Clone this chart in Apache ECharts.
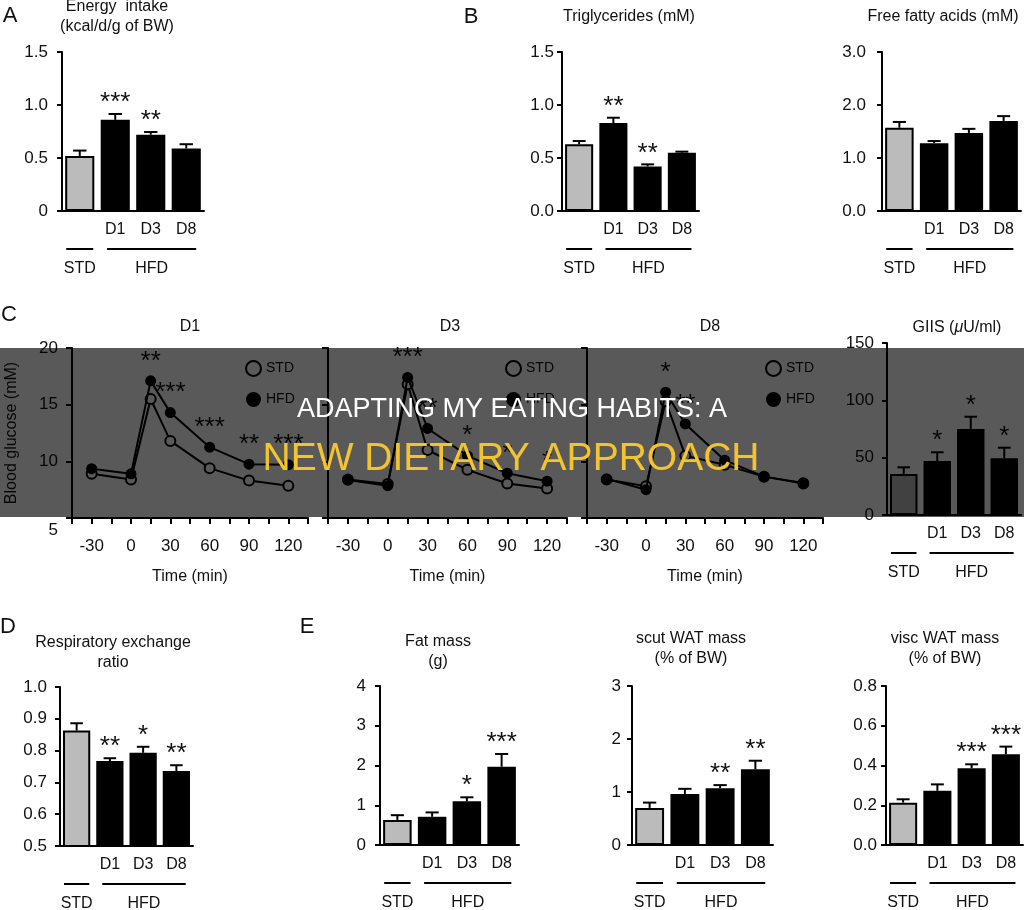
<!DOCTYPE html>
<html>
<head>
<meta charset="utf-8">
<title>HFD metabolic panels</title>
<script src="https://cdn.jsdelivr.net/npm/echarts@6/dist/echarts.min.js"></script>
<style>
  html, body { margin: 0; padding: 0; background: #fff; }
  #main { width: 1024px; height: 910px; }
</style>
</head>
<body>
<div id="main"></div>
<script>
// ---- data ----
const barCats = ['', 'D1', 'D3', 'D8'];
const groupNames = ['STD', 'HFD'];

const energyMean = [0.52, 0.86, 0.72, 0.59];
const energyErr = [0.57, 0.915, 0.745, 0.63];
const energyStars = ['', '***', '**', ''];
const energyTicks = ['0', '0.5', '1.0', '1.5'];

const tgMean = [0.63, 0.83, 0.42, 0.55];
const tgErr = [0.66, 0.88, 0.44, 0.56];
const tgStars = ['', '**', '**', ''];
const tgTicks = ['0.0', '0.5', '1.0', '1.5'];

const ffaMean = [1.57, 1.28, 1.47, 1.70];
const ffaErr = [1.68, 1.32, 1.55, 1.79];
const ffaStars = ['', '', '', ''];
const ffaTicks = ['0.0', '1.0', '2.0', '3.0'];

const giisMean = [35.8, 47.1, 75, 49.4];
const giisErr = [41.6, 54.7, 85.7, 58.7];
const giisStars = ['', '*', '*', '*'];
const giisTicks = ['0', '50', '100', '150'];

const rerMean = [0.863, 0.767, 0.793, 0.736];
const rerErr = [0.886, 0.776, 0.812, 0.754];
const rerStars = ['', '**', '*', '**'];
const rerTicks = ['0.5', '0.6', '0.7', '0.8', '0.9', '1.0'];

const fatMean = [0.63, 0.71, 1.1, 1.97];
const fatErr = [0.75, 0.82, 1.2, 2.29];
const fatStars = ['', '', '*', '***'];
const fatTicks = ['0', '1', '2', '3', '4'];

const scutMean = [0.70, 0.96, 1.07, 1.43];
const scutErr = [0.80, 1.06, 1.13, 1.59];
const scutStars = ['', '', '**', '**'];
const scutTicks = ['0', '1', '2', '3'];

const viscMean = [0.213, 0.273, 0.386, 0.456];
const viscErr = [0.23, 0.305, 0.406, 0.495];
const viscStars = ['', '', '***', '***'];
const viscTicks = ['0.0', '0.2', '0.4', '0.6', '0.8'];

const times = [-30, 0, 15, 30, 60, 90, 120];
const timeTicks = [-30, 0, 30, 60, 90, 120];
const glucoseTicks = ['5', '10', '15', '20'];
const d1Std = [8.9, 8.4, 15.5, 11.8, 9.4, 8.3, 7.85];
const d1Hfd = [9.35, 8.9, 17.1, 14.3, 11.25, 9.75, 9.7];
const d1Stars = ['', '', '**', '***', '***', '**', '***'];
const d3Std = [8.4, 8.0, 16.8, 11.0, 9.25, 8.05, 7.6];
const d3Hfd = [8.35, 7.85, 17.4, 12.9, 10.5, 8.95, 8.25];
const d3Stars = ['', '', '***', '**', '*', '*', '*'];
const d8Std = [8.4, 7.8, 15.3, 10.5, 9.7, 8.65, 8.05];
const d8Hfd = [8.45, 7.5, 16.1, 13.3, 10.1, 8.65, 8.1];
const d8Stars = ['', '', '*', '**', '', '', ''];

// ---- look ----
const FONT = '"Liberation Sans", Arial, Helvetica, sans-serif';
const INK = '#111';
const STAR = 26;

const barPanels = [
  { mean: energyMean, err: energyErr, stars: energyStars, ticks: energyTicks, min: 0, max: 1.5, interval: 0.5,
    left: 62, top: 52, width: 142, height: 159, margin: 14,
    title: 'Energy  intake\n(kcal/d/g of BW)', tx: 117, ty: -3 },
  { mean: tgMean, err: tgErr, stars: tgStars, ticks: tgTicks, min: 0, max: 1.5, interval: 0.5,
    left: 562, top: 52, width: 137, height: 159, margin: 8,
    title: 'Triglycerides (mM)', tx: 629, ty: 7 },
  { mean: ffaMean, err: ffaErr, stars: ffaStars, ticks: ffaTicks, min: 0, max: 3, interval: 1,
    left: 882, top: 52, width: 139, height: 159, margin: 16,
    title: 'Free fatty acids (mM)', tx: 943, ty: 7 },
  { mean: giisMean, err: giisErr, stars: giisStars, ticks: giisTicks, min: 0, max: 150, interval: 50,
    left: 887, top: 343, width: 134, height: 172, margin: 13,
    title: '{n|GIIS (}{i|\u03bc}{n|U/ml)}', tx: 957, ty: 318 },
  { mean: rerMean, err: rerErr, stars: rerStars, ticks: rerTicks, min: 0.5, max: 1.0, interval: 0.1,
    left: 60, top: 687, width: 133, height: 159, margin: 13,
    title: 'Respiratory exchange\nratio', tx: 113, ty: 633 },
  { mean: fatMean, err: fatErr, stars: fatStars, ticks: fatTicks, min: 0, max: 4, interval: 1,
    left: 380, top: 686, width: 139, height: 159, margin: 14,
    title: 'Fat mass\n(g)', tx: 438, ty: 632 },
  { mean: scutMean, err: scutErr, stars: scutStars, ticks: scutTicks, min: 0, max: 3, interval: 1,
    left: 632, top: 686, width: 141, height: 159, margin: 11,
    title: 'scut WAT mass\n(% of BW)', tx: 691, ty: 629 },
  { mean: viscMean, err: viscErr, stars: viscStars, ticks: viscTicks, min: 0, max: 0.8, interval: 0.2,
    left: 886, top: 686, width: 137, height: 159, margin: 9,
    title: 'visc WAT mass\n(% of BW)', tx: 945, ty: 629 }
];

const linePanels = [
  { std: d1Std, hfd: d1Hfd, stars: d1Stars, name: 'D1', left: 72, top: 348, width: 236, height: 170, showY: true, legendX: 240, tx: 190 },
  { std: d3Std, hfd: d3Hfd, stars: d3Stars, name: 'D3', left: 328, top: 348, width: 239, height: 170, showY: false, legendX: 500, tx: 450 },
  { std: d8Std, hfd: d8Hfd, stars: d8Stars, name: 'D8', left: 587, top: 348, width: 236, height: 170, showY: false, legendX: 760, tx: 710 }
];

function errRender(stars) {
  return function (params, api) {
    const c = api.value(0);
    const base = api.coord([c, api.value(1)]);
    const end = api.coord([c, api.value(2)]);
    const half = api.size([1, 0])[0] * 0.82 * 0.23;
    const kids = [
      { type: 'line', shape: { x1: base[0], y1: base[1], x2: end[0], y2: end[1] }, style: { stroke: '#000', lineWidth: 2 } },
      { type: 'line', shape: { x1: end[0] - half, y1: end[1], x2: end[0] + half, y2: end[1] }, style: { stroke: '#000', lineWidth: 2 } }
    ];
    const s = stars[params.dataIndex];
    if (s) {
      kids.push({ type: 'text', x: end[0], y: end[1] + 2,
        style: { text: s, fill: INK, font: STAR + 'px ' + FONT, align: 'center', textAlign: 'center', verticalAlign: 'bottom', textVerticalAlign: 'bottom' } });
    }
    return { type: 'group', children: kids };
  };
}

function txt(text, x, y, size, color, extra) {
  return Object.assign({ type: 'text', x: x, y: y, z: 50,
    style: { text: text, fill: color || INK, font: size + 'px ' + FONT,
      align: 'center', textAlign: 'center', verticalAlign: 'middle', textVerticalAlign: 'middle' } }, extra || {});
}
function seg(x1, y1, x2, y2) {
  return { type: 'line', z: 50, shape: { x1: x1, y1: y1, x2: x2, y2: y2 }, style: { stroke: '#000', lineWidth: 2 } };
}

const titleStyle = { fontSize: 16, fontWeight: 'normal', color: INK, fontFamily: FONT, lineHeight: 20 };

let myChart = echarts.init(document.getElementById('main'));
var option = {
  animation: false,
  backgroundColor: '#fff',
  textStyle: { fontFamily: FONT },
  title: [], grid: [], xAxis: [], yAxis: [], series: [], legend: [],
  graphic: { elements: [] }
};
const els = option.graphic.elements;

barPanels.forEach(function (p) {
  const gi = option.grid.length;
  option.grid.push({ left: p.left, top: p.top, width: p.width, height: p.height });
  option.title.push({
    text: p.title, left: p.tx, top: p.ty, textAlign: 'center', padding: 0,
    textStyle: Object.assign({}, titleStyle, {
      rich: { n: { fontSize: 16, color: INK, fontFamily: FONT }, i: { fontSize: 16, color: INK, fontFamily: FONT, fontStyle: 'italic' } }
    })
  });
  option.xAxis.push({
    gridIndex: gi, type: 'category', data: barCats,
    axisTick: { show: false },
    axisLine: { onZero: false, lineStyle: { color: '#000', width: 2 } },
    axisLabel: { interval: 0, fontSize: 16, color: INK, fontFamily: FONT, margin: 11 }
  });
  option.yAxis.push({
    gridIndex: gi, type: 'value', min: p.min, max: p.max, interval: p.interval,
    splitLine: { show: false },
    axisLine: { show: true, onZero: false, lineStyle: { color: '#000', width: 2 } },
    axisTick: { show: true, length: 5, lineStyle: { color: '#000', width: 2 } },
    axisLabel: { fontSize: 17, color: INK, fontFamily: FONT, margin: p.margin,
      formatter: function (v) { return p.ticks[Math.round((v - p.min) / p.interval)] || ''; } }
  });
  option.series.push({
    type: 'bar', xAxisIndex: gi, yAxisIndex: gi, barCategoryGap: '18%',
    data: p.mean.map(function (v, i) {
      return { value: v, itemStyle: i === 0 ? { color: '#bbbbbb', borderColor: '#000', borderWidth: 2 } : { color: '#000' } };
    })
  });
  option.series.push({
    type: 'custom', xAxisIndex: gi, yAxisIndex: gi, z: 3,
    renderItem: errRender(p.stars),
    data: p.mean.map(function (v, i) { return [i, v, p.err[i]]; })
  });
  // STD / HFD group bars under the categories
  const cw = p.width / barCats.length;
  const ay = p.top + p.height;
  const s1 = p.left + 0.12 * cw, s2 = p.left + 0.88 * cw;
  const h1 = p.left + 1.27 * cw, h2 = p.left + 3.78 * cw;
  els.push(seg(s1, ay + 38, s2, ay + 38));
  els.push(seg(h1, ay + 38, h2, ay + 38));
  els.push(txt(groupNames[0], (s1 + s2) / 2, ay + 58, 16));
  els.push(txt(groupNames[1], (h1 + h2) / 2, ay + 58, 16));
});

linePanels.forEach(function (p) {
  const gi = option.grid.length;
  option.grid.push({ left: p.left, top: p.top, width: p.width, height: p.height });
  option.title.push({ text: p.name, left: p.tx, top: 317, textAlign: 'center', padding: 0, textStyle: titleStyle });
  option.xAxis.push({
    gridIndex: gi, type: 'value', min: -45, max: 135, interval: 15,
    splitLine: { show: false },
    axisLine: { onZero: false, lineStyle: { color: '#000', width: 2 } },
    axisTick: { show: true, length: 6, lineStyle: { color: '#000', width: 2 } },
    axisLabel: { fontSize: 17, color: INK, fontFamily: FONT, margin: 20, showMinLabel: true, showMaxLabel: true,
      formatter: function (v) { return timeTicks.indexOf(v) >= 0 ? String(v) : ''; } },
    name: 'Time (min)', nameLocation: 'middle', nameGap: 51,
    nameTextStyle: { fontSize: 16, color: INK, fontFamily: FONT }
  });
  option.yAxis.push({
    gridIndex: gi, type: 'value', min: 5, max: 20, interval: 5,
    splitLine: { show: false },
    axisLine: { show: true, onZero: false, lineStyle: { color: '#000', width: 2 } },
    axisTick: { show: true, length: 6, lineStyle: { color: '#000', width: 2 } },
    axisLabel: { show: p.showY, fontSize: 17, color: INK, fontFamily: FONT, margin: 14,
      // the lowest label sits a little below the axis in the figure
      rich: { low: { fontSize: 17, color: INK, fontFamily: FONT, padding: [24, 0, 0, 0] } },
      formatter: function (v) {
        const i = Math.round((v - 5) / 5);
        return i === 0 ? '{low|' + glucoseTicks[0] + '}' : (glucoseTicks[i] || '');
      } },
    name: p.showY ? 'Blood glucose (mM)' : '', nameLocation: 'middle', nameGap: 52,
    nameTextStyle: { fontSize: 16, color: INK, fontFamily: FONT }
  });
  option.series.push({
    name: groupNames[0], type: 'line', xAxisIndex: gi, yAxisIndex: gi, z: 3,
    symbol: 'circle', symbolSize: 10,
    lineStyle: { color: '#000', width: 2 },
    itemStyle: { color: '#fff', borderColor: '#000', borderWidth: 2 },
    data: times.map(function (t, i) { return [t, p.std[i]]; })
  });
  option.series.push({
    name: groupNames[1], type: 'line', xAxisIndex: gi, yAxisIndex: gi, z: 4,
    symbol: 'circle', symbolSize: 11,
    lineStyle: { color: '#000', width: 2 },
    itemStyle: { color: '#000' },
    label: { show: true, position: 'top', distance: 1, fontSize: STAR, color: INK, fontFamily: FONT,
      formatter: function (q) { return p.stars[q.dataIndex]; } },
    data: times.map(function (t, i) { return [t, p.hfd[i]]; })
  });
  option.legend.push({
    left: p.legendX, top: 355, orient: 'vertical', icon: 'circle',
    itemWidth: 15, itemHeight: 15, itemGap: 15, selectedMode: false,
    textStyle: { fontSize: 14, color: INK, fontFamily: FONT },
    data: [
      { name: groupNames[0], itemStyle: { color: '#fff', borderColor: '#000', borderWidth: 2 } },
      { name: groupNames[1], itemStyle: { color: '#000', borderWidth: 0 } }
    ]
  });
});

// panel letters
els.push(txt('A', 10, 16, 22));
els.push(txt('B', 471, 17, 22));
els.push(txt('C', 9, 315, 22));
els.push(txt('D', 8, 627, 22));
els.push(txt('E', 307, 627, 22));

// banner overlay, on its own layer above everything
els.push({ type: 'rect', zlevel: 1, z: 100, shape: { x: 0, y: 348, width: 1024, height: 169 }, style: { fill: 'rgba(0,0,0,0.65)' } });
els.push(txt('ADAPTING MY EATING HABITS: A', 512, 410, 27, '#ffffff', { zlevel: 1, z: 101 }));
els.push(txt('NEW DIETARY APPROACH', 511, 459, 39, '#f4c430', { zlevel: 1, z: 101 }));

option && myChart.setOption(option);
</script>
</body>
</html>
